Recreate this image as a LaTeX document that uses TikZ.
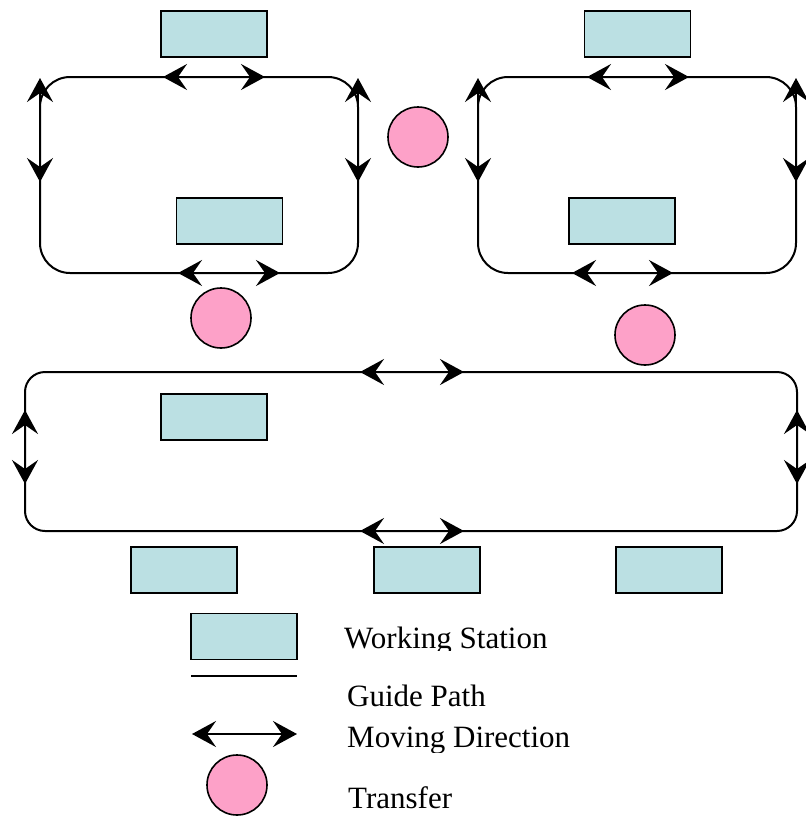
\documentclass[tikz,border=0pt]{standalone}
\usepackage{fontspec}
\setmainfont{Liberation Serif}
\usetikzlibrary{arrows.meta}
\definecolor{stfill}{RGB}{187,224,227}
\definecolor{trfill}{RGB}{253,161,200}
\tikzset{
  station/.style={draw=black, line width=1.8pt, fill=stfill, minimum width=106pt, minimum height=46pt, inner sep=0pt},
  transfer/.style={draw=black, line width=1.6pt, fill=trfill, circle, minimum size=60pt, inner sep=0pt},
  guide/.style={draw=black, line width=2pt},
  movedir/.style={draw=black, line width=2pt, {Stealth[length=24pt,width=26pt,inset=9pt]}-{Stealth[length=24pt,width=26pt,inset=9pt]}},
  legtext/.style={anchor=base west, inner sep=0pt, font=\fontsize{31}{37}\selectfont}
}
\begin{document}
\begin{tikzpicture}[x=1pt,y=-1pt]
\useasboundingbox (0,0) rectangle (806,817);
% guide paths
\draw[guide, rounded corners=30pt] (40,77) rectangle (358,273);
\draw[guide, rounded corners=30pt] (478,77) rectangle (796,273);
\draw[guide, rounded corners=20pt] (25,372) rectangle (797,531);
% stations
\node[station] (s1) at (214,34) {};
\node[station] (s2) at (229.5,221) {};
\node[station] (s3) at (637.5,34) {};
\node[station] (s4) at (622,221) {};
\node[station] (s5) at (214,417) {};
\node[station] (s6) at (184,570) {};
\node[station] (s7) at (427,570) {};
\node[station] (s8) at (669,570) {};
% transfers
\node[transfer] (t1) at (418,137) {};
\node[transfer] (t2) at (221,318) {};
\node[transfer] (t3) at (645,335) {};
% moving direction coordinates
\coordinate (a1l) at (163,77);  \coordinate (a1r) at (265,77);
\coordinate (a2l) at (178,273); \coordinate (a2r) at (280,273);
\coordinate (a3t) at (40,78);   \coordinate (a3b) at (40,182);
\coordinate (a4t) at (358,78);  \coordinate (a4b) at (358,182);
\coordinate (b1l) at (587,77);  \coordinate (b1r) at (689,77);
\coordinate (b2l) at (572,273); \coordinate (b2r) at (673,273);
\coordinate (b3t) at (478,78);  \coordinate (b3b) at (478,182);
\coordinate (b4t) at (796,78);  \coordinate (b4b) at (796,182);
\coordinate (c1l) at (360,372); \coordinate (c1r) at (464,372);
\coordinate (c2l) at (360,531); \coordinate (c2r) at (464,531);
\coordinate (c3t) at (25,410);  \coordinate (c3b) at (25,484);
\coordinate (c4t) at (797,410); \coordinate (c4b) at (797,484);
\draw[movedir] (a1l) -- (a1r);
\draw[movedir] (a2l) -- (a2r);
\draw[movedir] (a3t) -- (a3b);
\draw[movedir] (a4t) -- (a4b);
\draw[movedir] (b1l) -- (b1r);
\draw[movedir] (b2l) -- (b2r);
\draw[movedir] (b3t) -- (b3b);
\draw[movedir] (b4t) -- (b4b);
\draw[movedir] (c1l) -- (c1r);
\draw[movedir] (c2l) -- (c2r);
\draw[movedir] (c3t) -- (c3b);
\draw[movedir] (c4t) -- (c4b);
% legend
\node[station] (ls) at (244,636.5) {};
\coordinate (lgl) at (191,676); \coordinate (lgr) at (297,676);
\draw[guide] (lgl) -- (lgr);
\coordinate (lml) at (192,734); \coordinate (lmr) at (297,734);
\draw[movedir] (lml) -- (lmr);
\node[transfer] (lt) at (237,785) {};
\begin{scope}
\clip (330,600) rectangle (600,650);
\node[legtext] (tws) at (344,648) {Working Station};
\end{scope}
\node[legtext] (tgp) at (347,706) {Guide Path};
\begin{scope}
\clip (330,715) rectangle (600,752);
\node[legtext] (tmd) at (347,747) {Moving Direction};
\end{scope}
\node[legtext] (ttr) at (348,808) {Transfer};
\end{tikzpicture}
\end{document}
